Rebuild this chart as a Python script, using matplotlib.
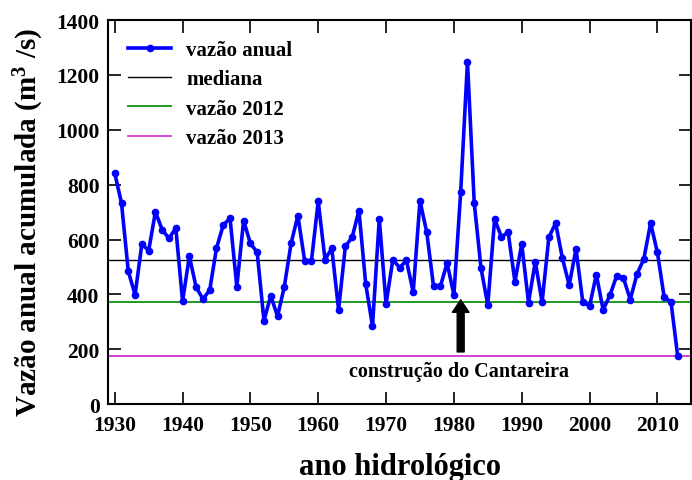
# coding=utf-8
"""
Vazão anual acumulada do sistema Cantareira por ano hidrológico.
"""

import matplotlib
matplotlib.use('Agg')
import matplotlib.pyplot as plt

# Dados
anos = list(range(1930, 2014))
vazao = [842, 732, 484, 398, 584, 559, 701, 635, 604, 642,
         375, 539, 426, 383, 415, 568, 653, 677, 428, 669,
         586, 553, 304, 395, 320, 428, 586, 687, 522, 522,
         739, 527, 568, 344, 575, 608, 705, 438, 284, 675,
         365, 527, 497, 524, 408, 741, 626, 429, 429, 514,
         398, 772, 1248, 733, 495, 361, 675, 610, 626, 446,
         584, 370, 519, 371, 608, 660, 531, 434, 565, 373,
         357, 472, 344, 396, 468, 459, 381, 474, 529, 660,
         553, 389, 373, 174]
mediana = 524
vazao_2012 = 373
vazao_2013 = 174
ano_construcao = 1981

plt.rcParams['font.family'] = ['Liberation Serif', 'DejaVu Serif']
plt.rcParams['font.weight'] = 'bold'
plt.rcParams['mathtext.default'] = 'regular'

fig = plt.figure(figsize=(6.92, 4.81), dpi=100)
ax = fig.add_axes([0.156, 0.158, 0.843, 0.798])

ax.plot(anos, vazao, '-o', color='#0000ff', lw=2.6, ms=4.5,
        label=u'vazão anual', zorder=5)
ax.axhline(mediana, color='black', lw=1.0, label='mediana', zorder=2)
ax.axhline(vazao_2012, color='#1f9a1f', lw=1.4, label=u'vazão 2012',
           zorder=2)
ax.axhline(vazao_2013, color='#cc22cc', lw=1.2, label=u'vazão 2013',
           zorder=2)

# Seta da construção do Cantareira
ax.annotate('', xy=(ano_construcao, 380), xytext=(ano_construcao, 190),
            arrowprops=dict(facecolor='black', edgecolor='black',
                            width=5, headwidth=12, headlength=9),
            zorder=6)
ax.text(ano_construcao - 0.3, 120, u'construção do Cantareira',
        ha='center', va='center', fontsize=14.5, fontweight='bold')

ax.set_xlim(1929, 2015)
ax.set_ylim(0, 1400)
ax.set_xticks(range(1930, 2011, 10))
ax.set_yticks(range(0, 1401, 200))
ax.tick_params(direction='in', length=9, width=1.2, top=True, right=True,
               labelsize=15.5)
ax.tick_params(axis='x', pad=8)
ax.tick_params(axis='y', pad=6)
for s in ax.spines.values():
    s.set_linewidth(1.5)

ax.set_xlabel(u'ano hidrológico', fontsize=22, fontweight='bold')
ax.xaxis.set_label_coords(0.5, -0.125)
ax.set_ylabel(u'Vazão anual acumulada (m$^3$ /s)', fontsize=21,
              fontweight='bold')
ax.yaxis.set_label_coords(-0.107, 0.475)

leg = ax.legend(loc='upper left', frameon=False, fontsize=15,
                handlelength=2.1, handletextpad=0.7, labelspacing=0.45,
                borderaxespad=0.55, borderpad=0.4)

fig.savefig('out.png', dpi=100)
